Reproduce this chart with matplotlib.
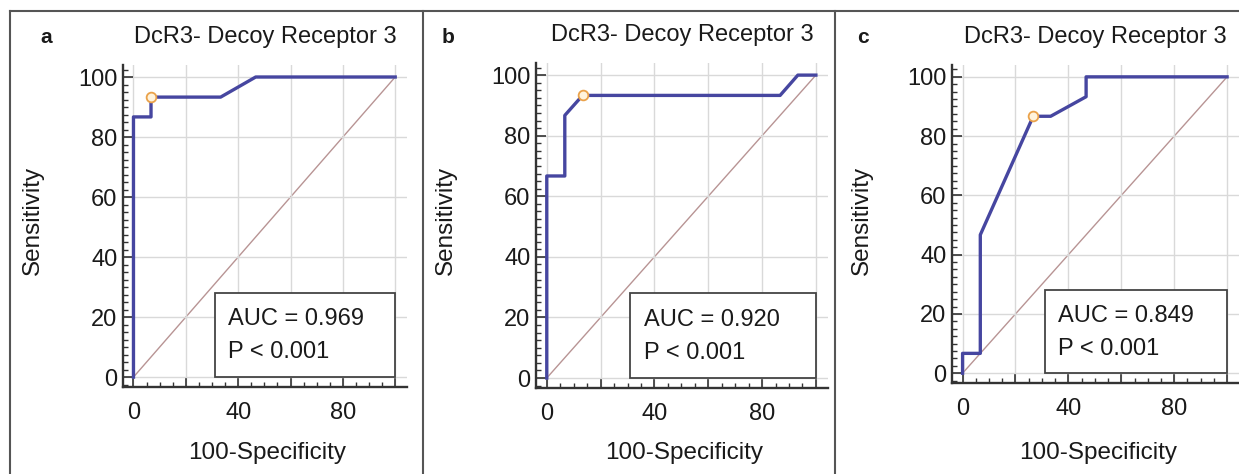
import matplotlib
matplotlib.use('Agg')
import matplotlib.pyplot as plt
from matplotlib.ticker import MultipleLocator
from matplotlib.patches import Rectangle
from matplotlib.lines import Line2D

plt.rcParams['font.family'] = ['Liberation Sans', 'DejaVu Sans']

# ROC curves (100-specificity, sensitivity)
fpr_a = [0, 0, 6.7, 6.7, 33.3, 46.7, 100]
tpr_a = [0, 86.7, 86.7, 93.3, 93.3, 100, 100]
fpr_b = [0, 0, 6.7, 6.7, 13.3, 86.7, 93.3, 100]
tpr_b = [0, 66.7, 66.7, 86.7, 93.3, 93.3, 100, 100]
fpr_c = [0, 0, 6.7, 6.7, 26.7, 33.3, 46.7, 46.7, 100]
tpr_c = [0, 6.7, 6.7, 46.7, 86.7, 86.7, 93.3, 100, 100]

# optimal cut-off points
cut_x = [6.7, 13.3, 26.7]
cut_y = [93.3, 93.3, 86.7]

letters = ['a', 'b', 'c']
auc_vals = ['0.969', '0.920', '0.849']
p_vals = ['< 0.001', '< 0.001', '< 0.001']
title = 'DcR3- Decoy Receptor 3'

W, H = 1239, 474
fig = plt.figure(figsize=(W / 100, H / 100), dpi=100)

# axes boxes in pixels: left, right, top, bottom
boxes = [(123, 407, 65, 387), (536, 828, 63, 388), (952, 1239, 65, 383)]
curves = [(fpr_a, tpr_a), (fpr_b, tpr_b), (fpr_c, tpr_c)]
letter_x = [40, 442, 857]

txt_col = '#1a1a1a'
fs = 17

for i in range(3):
    l, r, t, b = boxes[i]
    ax = fig.add_axes([l / W, 1 - b / H, (r - l) / W, (b - t) / H])
    ax.set_xlim(-4, 104.5)
    ax.set_ylim(-3.3, 104)

    ax.grid(True, which='major', color='#d9d9d9', lw=1, zorder=0)
    ax.plot([0, 100], [0, 100], color='#b89494', lw=1, zorder=1)
    fx, ty = curves[i]
    ax.plot(fx, ty, color='#4646a0', lw=2.4, zorder=2)
    ax.plot(cut_x[i], cut_y[i], 'o', ms=7, mfc='#fff3dc', mec='#eaa24a', mew=1.3, zorder=5)

    # AUC box
    ax.add_patch(Rectangle((31, 0), 69, 28, fc='white', ec='#444444', lw=1.3, zorder=3))
    ax.text(36, 17.3, 'AUC = ' + auc_vals[i], fontsize=fs, color=txt_col, va='baseline', zorder=4)
    ax.text(36, 6.3, 'P ' + p_vals[i], fontsize=fs, color=txt_col, va='baseline', zorder=4)

    for s in ['top', 'right']:
        ax.spines[s].set_visible(False)
    for s in ['left', 'bottom']:
        ax.spines[s].set_linewidth(1.7)
        ax.spines[s].set_color('#333333')

    ax.set_xticks(range(0, 101, 20))
    ax.set_xticklabels(['0', '', '40', '', '80', ''])
    ax.set_yticks(range(0, 101, 20))
    ax.xaxis.set_minor_locator(MultipleLocator(5))
    ax.yaxis.set_minor_locator(MultipleLocator(2.5))
    ax.tick_params(which='major', direction='in', length=7, width=1.2, color='#333333',
                   labelsize=fs, labelcolor=txt_col)
    ax.tick_params(which='minor', direction='in', length=3.5, width=1, color='#333333')
    ax.tick_params(axis='x', which='major', pad=11)
    ax.tick_params(axis='y', which='major', pad=4)

    ax.set_title(title, fontsize=fs, color=txt_col, pad=16)

    fig.text((l - 90) / W, 1 - 220 / H, 'Sensitivity', rotation=90, fontsize=17.5,
             color=txt_col, ha='center', va='center')
    fig.text((l + r) / 2 / W + 0.002, 1 - 453 / H, '100-Specificity', fontsize=17.5,
             color=txt_col, ha='center', va='center')
    fig.text(letter_x[i] / W, 1 - 43 / H, letters[i], fontsize=15, fontweight='bold',
             color=txt_col, va='baseline')

# panel frame lines
frame_col = '#555555'
fig.add_artist(Line2D([10 / W, 1], [1 - 11 / H, 1 - 11 / H], color=frame_col, lw=1.5))
for px in [10, 423, 835]:
    fig.add_artist(Line2D([px / W, px / W], [0, 1 - 11 / H], color=frame_col, lw=1.5))

fig.savefig('out.png', dpi=100)
